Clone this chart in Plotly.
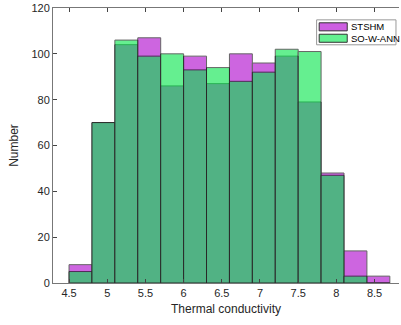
import plotly.graph_objects as go

bin_centers = [4.65, 4.95, 5.25, 5.55, 5.85, 6.15, 6.45, 6.75, 7.05, 7.35, 7.65, 7.95, 8.25, 8.55]
stshm = [8, 70, 104, 107, 86, 99, 87, 100, 96, 99, 79, 48, 14, 3]
sowann = [5, 70, 106, 99, 100, 93, 94, 88, 92, 102, 101, 47, 3, 0]
series_names = ["STSHM", "SO-W-ANN"]
x_ticks = [4.5, 5, 5.5, 6, 6.5, 7, 7.5, 8, 8.5]
y_ticks = [0, 20, 40, 60, 80, 100, 120]

base_colors = ["rgb(172,0,205)", "rgb(0,230,72)"]
swatch_colors = ["rgb(205,95,225)", "rgb(100,240,145)"]

fig = go.Figure()
for name, vals, col in zip(series_names, [stshm, sowann], base_colors):
    fig.add_trace(go.Bar(x=bin_centers, y=vals, width=0.3, name=name,
                         marker=dict(color=col, line=dict(color="black", width=1)),
                         opacity=0.6, showlegend=False))

# legend drawn manually (MATLAB style)
W, H = 401, 325
def px(x): return x / W
def py(y): return 1 - y / H
shapes = [dict(type="rect", xref="paper", yref="paper",
               x0=px(305.5), x1=px(397.5), y0=py(43.5), y1=py(14),
               line=dict(color="#999", width=1), fillcolor="white", layer="above")]
annos = []
for i, (name, sc) in enumerate(zip(series_names, swatch_colors)):
    top = 17.5 + i * 13.5
    shapes.append(dict(type="rect", xref="paper", yref="paper",
                       x0=px(308.5), x1=px(341), y0=py(top + 9.5), y1=py(top),
                       line=dict(color="#333", width=1), fillcolor=sc, layer="above"))
    annos.append(dict(xref="paper", yref="paper", x=px(342.5), y=py(top + 4.8),
                      xanchor="left", yanchor="middle", text=name, showarrow=False,
                      font=dict(family="Liberation Sans, Arial", size=9.5, color="black")))

axis_font = dict(family="Liberation Sans, Arial", size=11, color="#262626")
fig.update_layout(
    width=W, height=H,
    margin=dict(l=53, r=2, t=5, b=42),
    barmode="overlay",
    plot_bgcolor="white", paper_bgcolor="white",
    font=axis_font,
    shapes=shapes, annotations=annos,
    xaxis=dict(range=[4.29, 8.82], tickvals=x_ticks, ticktext=[str(v) for v in x_ticks],
               ticks="inside", ticklen=4, tickcolor="#444", showline=True, linecolor="#777",
               linewidth=1, mirror="ticks", showgrid=False, zeroline=False,
               title=dict(text="Thermal conductivity", standoff=6, font=dict(size=12))),
    yaxis=dict(range=[0, 120], tickvals=y_ticks, ticks="inside", ticklen=4, tickcolor="#444",
               showline=True, linecolor="#777", linewidth=1, showgrid=False, zeroline=False,
               ticklabeloverflow="allow",
               title=dict(text="Number", standoff=10, font=dict(size=12))),
)
fig.write_html("out.html")
